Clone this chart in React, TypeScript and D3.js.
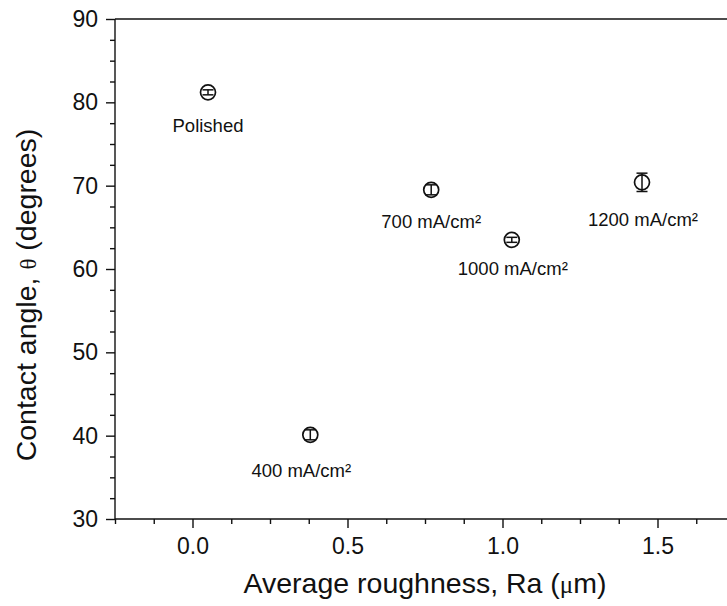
import React, { useEffect, useRef } from 'react';
import * as d3 from 'd3';

// values
const sampleLabels = ['Polished', '400 mA/cm²', '700 mA/cm²', '1000 mA/cm²', '1200 mA/cm²'];
const roughness = [0.05, 0.38, 0.77, 1.03, 1.45];
const contactAngle = [81.2, 40.1, 69.5, 63.5, 70.4];
const angleError = [0.3, 0.6, 0.6, 0.3, 1.1];

const xMajorTicks = [0, 0.5, 1, 1.5];
const yMajorTicks = [30, 40, 50, 60, 70, 80, 90];

// hand placement of the annotation text (dx, baseline offset below the point)
const labelOffsets: Record<string, [number, number]> = {
    'Polished': [0, 40],
    '400 mA/cm²': [-9, 42],
    '700 mA/cm²': [0, 38],
    '1000 mA/cm²': [1, 35],
    '1200 mA/cm²': [1, 44],
};

const FONT = '"Liberation Sans", Arial, sans-serif';

const App = () => {
    const svgRef = useRef<SVGSVGElement>(null);

    useEffect(() => {
        const width = 727;
        const height = 606;
        const left = 115;
        const right = 735;
        const top = 19;
        const bottom = 519;

        const x = d3.scaleLinear().domain([-0.25, 1.75]).range([left, right]);
        const y = d3.scaleLinear().domain([30, 90]).range([bottom, top]);

        const svg = d3.select(svgRef.current);
        svg.selectAll('*').remove();
        svg.attr('width', width).attr('height', height);

        const xMinor = d3.range(-0.25, 1.76, 0.125).filter((v) => !xMajorTicks.some((m) => Math.abs(m - v) < 1e-6));
        const yMinor = d3.range(30, 90.1, 2.5).filter((v) => v % 10 !== 0);

        // frame lines (left, bottom, top)
        const frame = svg.append('g').attr('stroke', '#111').attr('stroke-width', 1.4);
        frame.append('line').attr('x1', left).attr('x2', left).attr('y1', top).attr('y2', bottom);
        frame.append('line').attr('x1', left).attr('x2', right).attr('y1', bottom).attr('y2', bottom);
        frame.append('line').attr('x1', left).attr('x2', right).attr('y1', top).attr('y2', top);

        // x axis
        const gx = svg.append('g').attr('transform', `translate(0,${bottom})`);
        gx.call(
            d3.axisBottom(x).tickValues(xMajorTicks).tickSize(9).tickSizeOuter(0).tickPadding(10)
                .tickFormat(d3.format('.1f') as any)
        );
        gx.append('g').call(
            d3.axisBottom(x).tickValues(xMinor).tickSize(5).tickSizeOuter(0).tickFormat(() => '')
        );

        // y axis
        const gy = svg.append('g').attr('transform', `translate(${left},0)`);
        gy.call(d3.axisLeft(y).tickValues(yMajorTicks).tickSize(9).tickSizeOuter(0).tickPadding(8));
        gy.append('g').call(
            d3.axisLeft(y).tickValues(yMinor).tickSize(5).tickSizeOuter(0).tickFormat(() => '')
        );

        svg.selectAll('.domain').remove();
        svg.selectAll('.tick line').attr('stroke', '#111').attr('stroke-width', 1.4);
        svg.selectAll('.tick text')
            .attr('fill', '#111')
            .style('font-family', FONT)
            .style('font-size', '23px');

        // axis titles
        const xTitle = svg.append('text')
            .attr('x', (left + right) / 2)
            .attr('y', 593)
            .attr('text-anchor', 'middle')
            .attr('fill', '#111')
            .style('font-family', FONT)
            .style('font-size', '28.5px');
        xTitle.append('tspan').text('Average roughness, Ra (');
        xTitle.append('tspan').style('font-family', '"Liberation Serif", serif').style('font-size', '25px').text('μ');
        xTitle.append('tspan').text('m)');

        const yTitle = svg.append('text')
            .attr('transform', 'translate(36,295) rotate(-90)')
            .attr('text-anchor', 'middle')
            .attr('fill', '#111')
            .style('font-family', FONT)
            .style('font-size', '28.5px');
        yTitle.append('tspan').text('Contact angle, ');
        yTitle.append('tspan').style('font-family', '"Liberation Serif", serif').style('font-size', '23px').text('θ');
        yTitle.append('tspan').text(' (degrees)');

        // points with error bars
        const pts = sampleLabels.map((label, i) => ({
            label,
            rx: roughness[i],
            angle: contactAngle[i],
            err: angleError[i],
        }));

        const g = svg.append('g');
        const cap = 5.5;

        g.selectAll('circle')
            .data(pts)
            .enter()
            .append('circle')
            .attr('cx', (d) => x(d.rx))
            .attr('cy', (d) => y(d.angle))
            .attr('r', 7.5)
            .attr('fill', '#fff')
            .attr('stroke', '#111')
            .attr('stroke-width', 1.7);

        const bars = g.selectAll('.err').data(pts).enter().append('g').attr('class', 'err')
            .attr('stroke', '#111').attr('stroke-width', 1.5);
        bars.append('line')
            .attr('x1', (d) => x(d.rx)).attr('x2', (d) => x(d.rx))
            .attr('y1', (d) => y(d.angle + d.err)).attr('y2', (d) => y(d.angle - d.err));
        bars.append('line')
            .attr('x1', (d) => x(d.rx) - cap).attr('x2', (d) => x(d.rx) + cap)
            .attr('y1', (d) => y(d.angle + d.err)).attr('y2', (d) => y(d.angle + d.err));
        bars.append('line')
            .attr('x1', (d) => x(d.rx) - cap).attr('x2', (d) => x(d.rx) + cap)
            .attr('y1', (d) => y(d.angle - d.err)).attr('y2', (d) => y(d.angle - d.err));

        g.selectAll('.lbl')
            .data(pts)
            .enter()
            .append('text')
            .attr('class', 'lbl')
            .attr('x', (d) => x(d.rx) + labelOffsets[d.label][0])
            .attr('y', (d) => y(d.angle) + labelOffsets[d.label][1])
            .attr('text-anchor', 'middle')
            .attr('fill', '#111')
            .style('font-family', FONT)
            .style('font-size', '18.5px')
            .text((d) => d.label);
    }, []);

    return (
        <svg ref={svgRef} style={{ position: 'absolute', left: 0, top: 0 }}></svg>
    );
};

export default App;
